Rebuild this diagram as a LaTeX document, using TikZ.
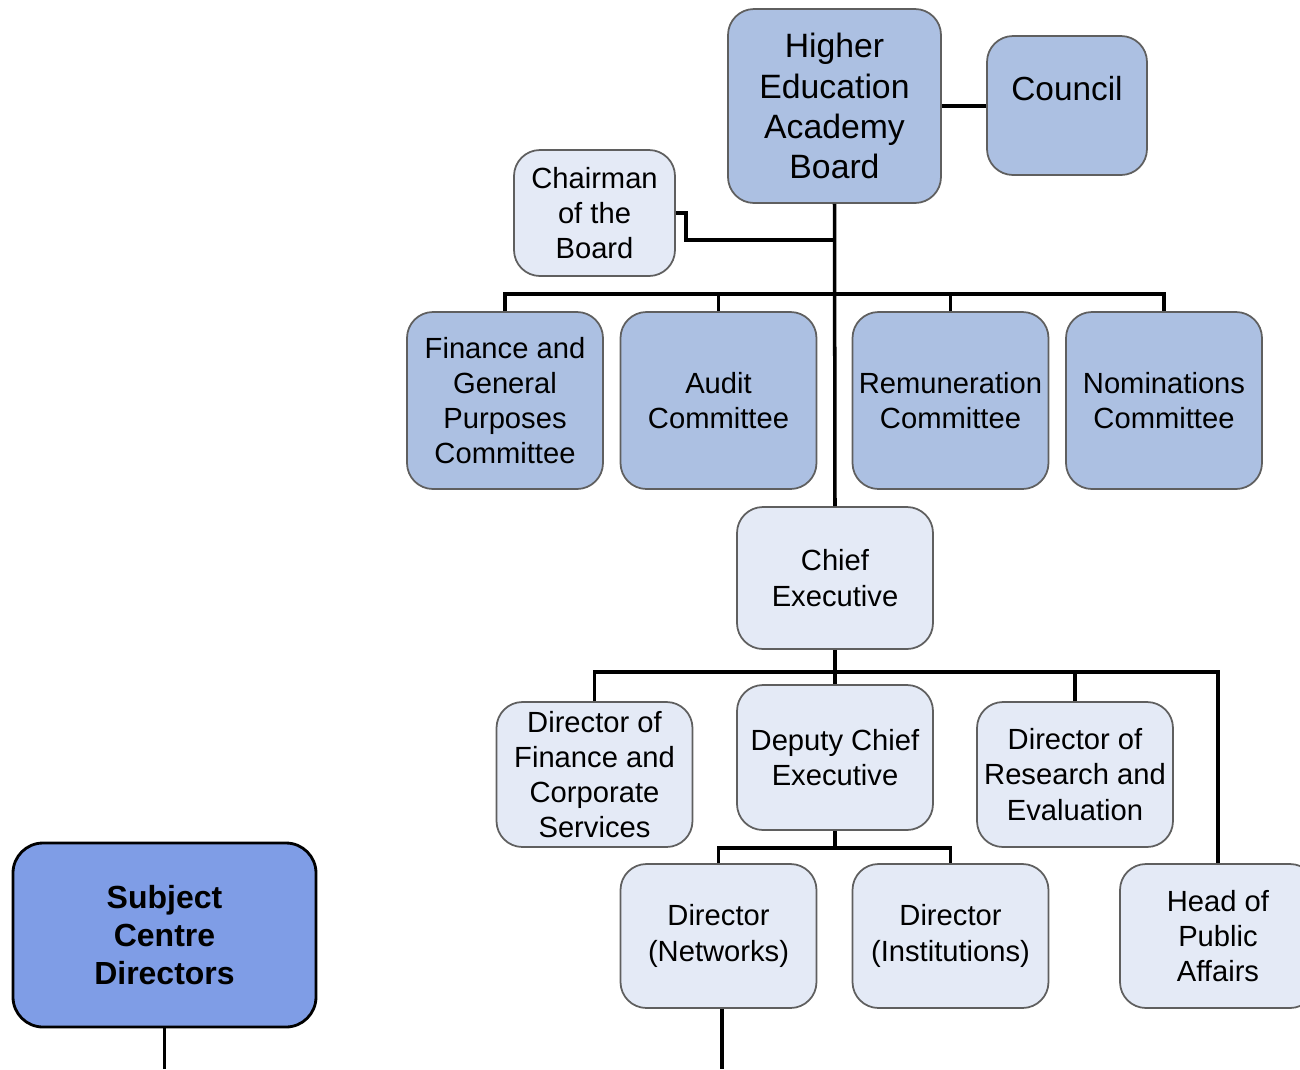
\documentclass[tikz,border=0pt]{standalone}
\usepackage{fontspec}
\setmainfont{Liberation Sans}
\usetikzlibrary{positioning}

\definecolor{boardblue}{RGB}{172,192,226}
\definecolor{paleblue}{RGB}{228,234,246}
\definecolor{subjblue}{RGB}{127,157,230}
\definecolor{edgegray}{RGB}{95,95,95}

\tikzset{
  box/.style={draw=edgegray, line width=0.5pt, rounded corners=0.26cm,
    align=center, inner sep=1pt, minimum width=1.96cm,
    font=\fontsize{8.3}{10}\selectfont},
  darkbox/.style={box, fill=boardblue},
  lightbox/.style={box, fill=paleblue},
  subjbox/.style={draw=black, line width=0.8pt, fill=subjblue,
    rounded corners=0.3cm, align=center, minimum width=3.03cm,
    minimum height=1.84cm, font=\fontsize{9.1}{10.8}\selectfont\bfseries},
  conn/.style={line width=1pt}
}

\begin{document}
\begin{tikzpicture}[x=0.1mm, y=-0.1mm]
    \useasboundingbox (0,0) rectangle (1300,1069);
    \clip (0,0) rectangle (1300,1069);

    % Board and council
    \node[darkbox, minimum width=2.13cm, minimum height=1.94cm,
      font=\fontsize{9.6}{11.4}\selectfont] (board) at (834.5,106)
      {Higher\\Education\\Academy\\Board};
    \node[darkbox, minimum width=1.6cm, minimum height=1.39cm,
      font=\fontsize{9.5}{11.4}\selectfont] (council) at (1067,105.5)
      {Council\\[-5pt]\strut};
    \node[lightbox, minimum width=1.61cm, minimum height=1.26cm] (chair) at (594.5,213)
      {Chairman\\of the\\Board};

    % Committees
    \node[darkbox, minimum height=1.77cm] (fgp) at (505,400.5)
      {Finance and\\General\\Purposes\\Committee};
    \node[darkbox, minimum height=1.77cm] (audit) at (718.5,400.5)
      {Audit\\Committee};
    \node[darkbox, minimum height=1.77cm] (remun) at (950.5,400.5)
      {Remuneration\\Committee};
    \node[darkbox, minimum height=1.77cm] (nomin) at (1164,400.5)
      {Nominations\\Committee};

    % Executive
    \node[lightbox, minimum height=1.42cm] (chief) at (835,578)
      {Chief\\Executive};
    \node[lightbox, minimum height=1.45cm] (dfcs) at (594.5,774.5)
      {Director of\\Finance and\\Corporate\\Services};
    \node[lightbox, minimum height=1.45cm] (deputy) at (835,757.5)
      {Deputy Chief\\Executive};
    \node[lightbox, minimum height=1.45cm] (dre) at (1075,774.5)
      {Director of\\Research and\\Evaluation};
    \node[lightbox, minimum height=1.44cm] (dnet) at (718.5,936)
      {Director\\(Networks)};
    \node[lightbox, minimum height=1.44cm] (dinst) at (950.5,936)
      {Director\\(Institutions)};
    \node[lightbox, minimum height=1.44cm] (head) at (1218,936)
      {Head of\\Public\\Affairs};

    % Subject centres
    \node[subjbox] (subj) at (164.5,935) {Subject\\Centre\\Directors};

    % Free ends at the lower edge
    \coordinate (subjend) at (164.5,1069);
    \coordinate (dnetend) at (722,1069);

    % Top connectors
    \draw[conn] (board.east) -- (council.west |- board.east);
    \draw[conn] (board.south) -- (chief.north);
    \draw[conn] (chair.east) -| (686,240) -- (board.south |- 0,240);
    \draw[conn] (fgp.north) |- (board.south |- 0,294) -| (nomin.north);
    \draw[conn] (audit.north) -- (audit.north |- 0,294);
    \draw[conn] (remun.north) -- (remun.north |- 0,294);

    % Executive connectors
    \draw[conn] (chief.south) -- (deputy.north);
    \draw[conn] (dfcs.north) |- (chief.south |- 0,672) -| (head.north);
    \draw[conn] (dre.north) -- (dre.north |- 0,672);
    \draw[conn] (deputy.south) -- (deputy.south |- 0,848);
    \draw[conn] (dnet.north) |- (deputy.south |- 0,848) -| (dinst.north);

    % Lines leaving the picture
    \draw[conn] (subj.south) -- (subjend);
    \draw[conn] (dnet.south -| dnetend) -- (dnetend);
\end{tikzpicture}
\end{document}
